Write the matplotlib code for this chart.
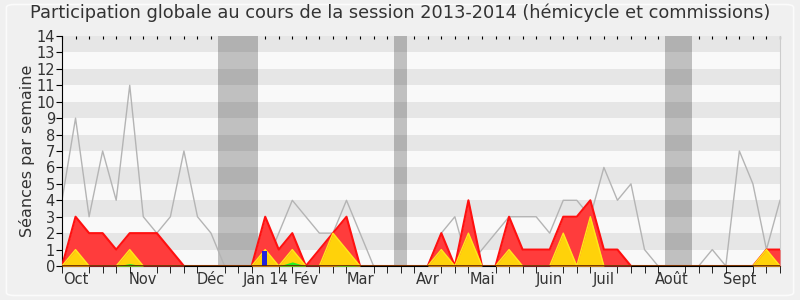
import numpy as np
import matplotlib
matplotlib.use('Agg')
import matplotlib.pyplot as plt
from matplotlib.patches import FancyBboxPatch

# weekly values, session 2013-2014 (week 0 = end of Sept 2013)
weeks = np.arange(54)

total_seances = [4, 9, 3, 7, 4, 11, 3, 2, 3, 7, 3, 2, 0, 0, 0, 0, 2, 4, 3, 2,
                 2, 4, 2, 0, 0, 0, 0, 0, 2, 3, 0, 1, 2, 3, 3, 3, 2, 4, 4, 3,
                 6, 4, 5, 1, 0, 0, 0, 0, 1, 0, 7, 5, 1, 4]

presences = [0, 3, 2, 2, 1, 2, 2, 2, 1, 0, 0, 0, 0, 0, 0, 3, 1, 2, 0, 1,
             2, 3, 0, 0, 0, 0, 0, 0, 2, 0, 4, 0, 0, 3, 1, 1, 1, 3, 3, 4,
             1, 1, 0, 0, 0, 0, 0, 0, 0, 0, 0, 0, 1, 1]

commission = [0, 1, 0, 0, 0, 1, 0, 0, 0, 0, 0, 0, 0, 0, 0, 1, 0, 1, 0, 0,
              2, 1, 0, 0, 0, 0, 0, 0, 1, 0, 2, 0, 0, 1, 0, 0, 0, 2, 0, 3,
              0, 0, 0, 0, 0, 0, 0, 0, 0, 0, 0, 0, 1, 0]

interventions = [0, 0, 0, 0, 0, 0.15, 0, 0, 0, 0, 0, 0, 0, 0, 0, 0, 0, 0.25, 0, 0,
                 0, 0.06, 0, 0, 0, 0, 0, 0, 0, 0, 0, 0, 0, 0, 0, 0, 0, 0, 0, 0,
                 0, 0, 0, 0, 0, 0, 0, 0, 0, 0, 0, 0, 0, 0]

questions_week = [14.95]
questions_val = [0.9]

vacances = [(11.5, 14.5), (24.5, 25.5), (44.5, 46.5)]

mois_pos = [1, 6, 11, 15, 18, 22, 27, 31, 36, 40, 45, 50]
mois_lab = ['Oct', 'Nov', 'Déc', 'Jan 14', 'Fév', 'Mar', 'Avr', 'Mai', 'Juin', 'Juil', 'Août', 'Sept']

txt = '#333333'
fig = plt.figure(figsize=(8, 3), dpi=100, facecolor='#f0f0f0')
fig.patches.append(FancyBboxPatch((0.008, 0.015), 0.984, 0.97, boxstyle='round,pad=0,rounding_size=0.01',
                                  transform=fig.transFigure, facecolor='none', edgecolor='#fbfbfb', lw=1.2))
ax = fig.add_axes([0.0775, 0.1133, 0.8975, 0.7667])
ax.set_facecolor('#f9f9f9')

# horizontal stripes
for y in range(1, 14, 2):
    ax.axhspan(y, y + 1, color='black', alpha=0.075, lw=0, zorder=1)
for a, b in vacances:
    ax.axvspan(a, b, color='#c0c0c0', lw=0, zorder=0.5)

ax.plot(weeks, total_seances, color='#b4b4b4', lw=1, zorder=2)
ax.fill_between(weeks, presences, color='#ff3c3c', lw=0, zorder=3)
ax.plot(weeks, presences, color='#ff1010', lw=1.5, zorder=3)
ax.fill_between(weeks, commission, color='#ffd20a', lw=0, zorder=4)
ax.plot(weeks, commission, color='#ffe81a', lw=1, zorder=4)
ax.fill_between(weeks, interventions, color='#22ee22', lw=0, zorder=5)
ax.bar(questions_week, questions_val, width=0.37, color='#2222dd', zorder=6)
ax.axhline(0, color='#602000', lw=1.2, zorder=6)

ax.set_xlim(0, 53)
ax.set_ylim(0, 14)
ax.set_yticks(range(15))
ax.set_xticks(weeks, minor=True)
ax.set_xticks(mois_pos)
ax.set_xticklabels(mois_lab)
ax.tick_params(axis='x', which='both', length=5, color='black')
ax.tick_params(axis='both', labelsize=10.5, labelcolor=txt)
ax.tick_params(axis='y', length=4, pad=1)
ax.tick_params(axis='x', which='major', length=0, pad=4)

top = ax.secondary_xaxis('top')
top.set_xticks(weeks)
top.set_xticklabels([])
top.tick_params(direction='in', length=2, color='black', width=0.8)
top.spines['top'].set_visible(False)

ax.spines['top'].set_visible(False)
ax.spines['right'].set_color('#cccccc')
ax.spines['left'].set_color('black')
ax.spines['bottom'].set_color('black')

ax.set_ylabel('Séances par semaine', fontsize=11.5, color=txt, labelpad=1)
fig.text(0.5, 0.925, 'Participation globale au cours de la session 2013-2014 (hémicycle et commissions)',
         ha='center', va='bottom', fontsize=12.8, color=txt)

fig.savefig('out.png', dpi=100, facecolor=fig.get_facecolor())
